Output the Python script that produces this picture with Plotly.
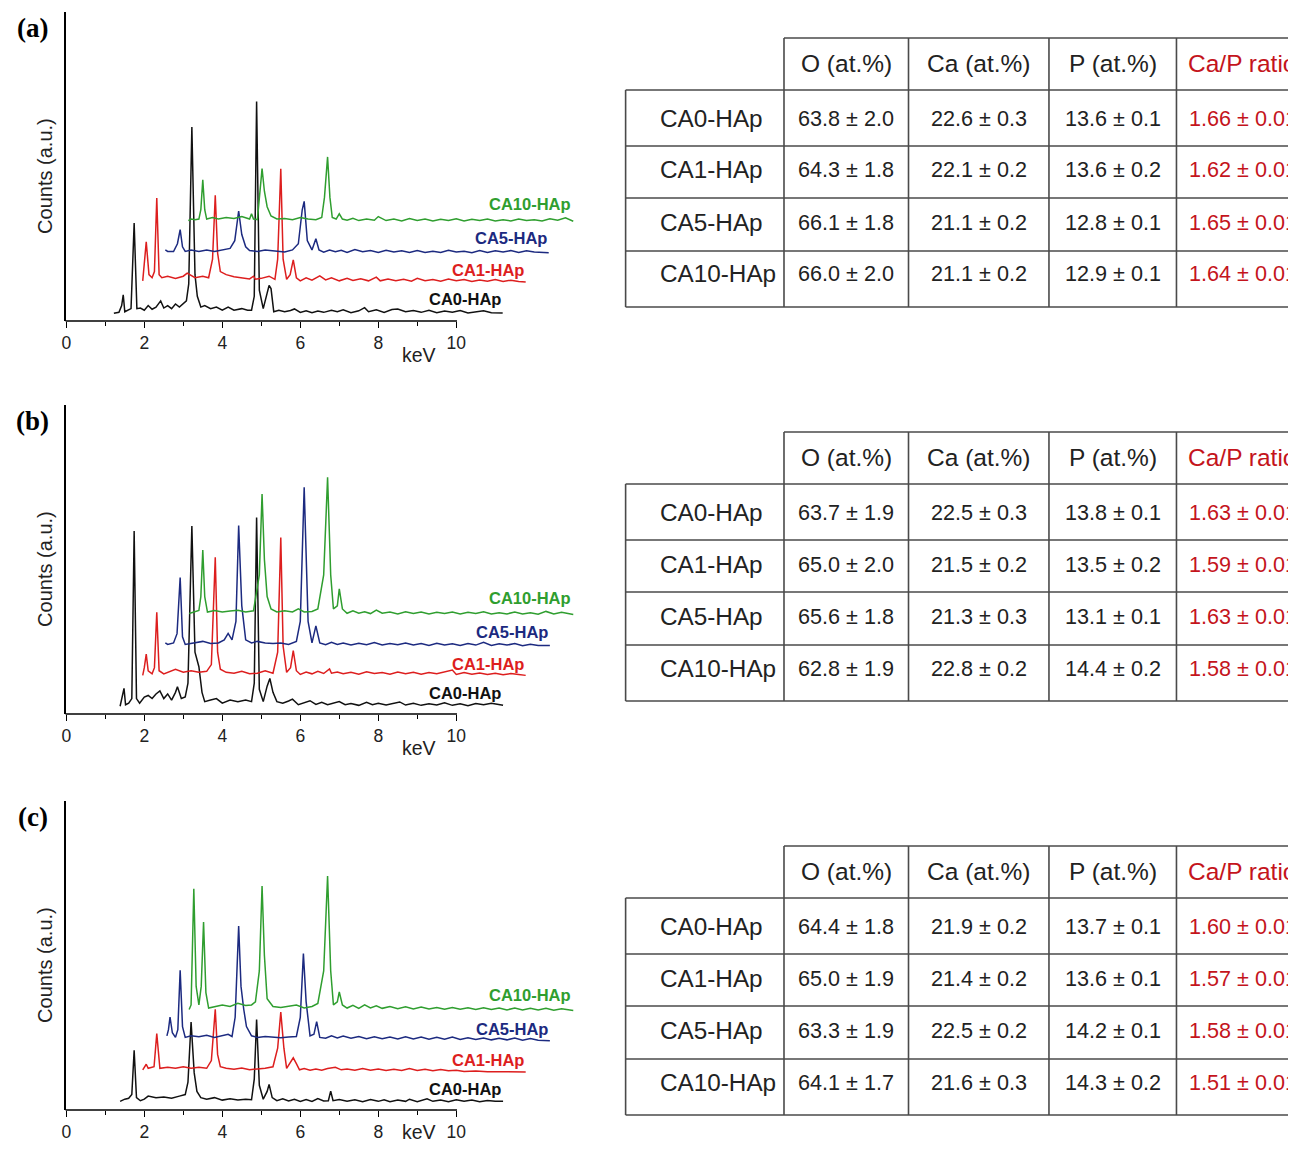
import plotly.graph_objects as go

# ---------------- DATA ----------------
series_names = ["CA0-HAp", "CA1-HAp", "CA5-HAp", "CA10-HAp"]
panel_labels = ["(a)", "(b)", "(c)"]
x_tick_vals = [0, 2, 4, 6, 8, 10]
x_minor_vals = [1, 3, 5, 7, 9]
x_title = "keV"
y_title = "Counts (a.u.)"

# ---- panel (a) spectra: displayed keV, counts (% of axis height) ----
a_ca0_kev = [1.22, 1.35, 1.42, 1.46, 1.50, 1.58, 1.66, 1.74, 1.81, 1.9, 2.0, 2.1, 2.2, 2.3, 2.42, 2.5, 2.6, 2.7, 2.8, 2.9, 3.0, 3.08, 3.14, 3.22, 3.30, 3.36, 3.45, 3.55, 3.7, 3.85, 4.0, 4.15, 4.3, 4.5, 4.65, 4.75, 4.82, 4.88, 4.95, 5.05, 5.15, 5.2, 5.25, 5.32,
             5.45, 5.6, 5.75, 5.85, 6.0, 6.15, 6.3, 6.45, 6.6, 6.8, 6.95, 7.1, 7.3, 7.5, 7.65, 7.75, 7.95, 8.15, 8.35, 8.5, 8.7, 8.9, 9.1, 9.3, 9.5, 9.7, 9.9, 10.1, 10.3, 10.5, 10.7, 10.9, 11.19]
a_ca0_cnt = [2.5, 2.8, 5.0, 8.5, 3.0, 3.5, 4.0, 31.7, 4.0, 4.2, 3.5, 5.0, 3.8, 4.5, 6.5, 4.2, 5.0, 4.0, 5.5, 4.5, 5.5, 6.5, 12.0, 62.8, 15.0, 8.0, 4.5, 5.0, 4.0, 4.5, 3.5, 4.5, 3.5, 4.0, 3.5, 3.5, 8.0, 71.0, 10.0, 4.0, 9.0, 11.5, 10.5, 3.0,
             3.5, 3.0, 3.4, 3.9, 2.8, 3.3, 2.7, 3.2, 2.8, 3.5, 3.0, 3.6, 2.7, 3.3, 4.3, 3.0, 3.6, 2.8, 3.7, 3.9, 3.0, 3.4, 2.8, 3.5, 2.7, 3.2, 2.8, 3.4, 2.6, 3.0, 3.3, 2.7, 2.6]
a_ca1_kev = [1.96, 2.0, 2.05, 2.12, 2.2, 2.26, 2.32, 2.38, 2.45, 2.6, 2.8, 3.0, 3.1, 3.3, 3.5, 3.65, 3.75, 3.82, 3.88, 3.95, 4.1, 4.3, 4.5, 4.7, 4.8, 4.85, 5.0, 5.2, 5.35, 5.42, 5.5, 5.56, 5.65, 5.74, 5.82, 5.9,
             6.0, 6.15, 6.3, 6.5, 6.65, 6.8, 7.0, 7.2, 7.35, 7.55, 7.75, 7.95, 8.05, 8.25, 8.45, 8.65, 8.85, 9.0, 9.2, 9.4, 9.6, 9.8, 10.0, 10.2, 10.4, 10.6, 10.8, 11.0, 11.2, 11.4, 11.6, 11.78]
a_ca1_cnt = [13.0, 18.0, 25.6, 15.0, 14.0, 16.0, 39.8, 15.0, 14.0, 14.5, 13.8, 14.5, 15.5, 14.0, 14.5, 14.0, 20.0, 40.7, 22.0, 16.0, 15.0, 14.3, 14.0, 13.6, 14.5, 13.5, 13.8, 14.5, 13.5, 20.0, 49.3, 20.0, 13.5, 15.0, 19.8, 14.0,
             13.0, 14.0, 13.2, 14.6, 13.3, 14.0, 13.0, 13.8, 13.1, 13.7, 13.0, 14.2, 13.0, 13.6, 13.0, 13.5, 12.9, 13.8, 13.0, 13.4, 12.9, 13.6, 13.0, 13.4, 12.8, 13.3, 12.9, 13.4, 12.8, 13.2, 12.8, 12.6]
a_ca5_kev = [2.54, 2.6, 2.75, 2.85, 2.92, 2.98, 3.05, 3.2, 3.4, 3.6, 3.8, 4.0, 4.2, 4.32, 4.42, 4.5, 4.6, 4.7, 4.9, 5.1, 5.4, 5.6, 5.8, 5.95, 6.05, 6.1, 6.18, 6.3, 6.4, 6.48,
             6.6, 6.75, 6.9, 7.05, 7.2, 7.4, 7.6, 7.8, 8.0, 8.2, 8.4, 8.6, 8.8, 9.0, 9.2, 9.4, 9.6, 9.8, 10.0, 10.2, 10.4, 10.6, 10.8, 11.0, 11.2, 11.4, 11.6, 11.8, 12.0, 12.37]
a_ca5_cnt = [23.0, 22.5, 22.5, 25.0, 29.6, 24.0, 22.5, 23.0, 22.5, 23.0, 22.5, 23.0, 23.5, 26.0, 35.6, 28.0, 24.0, 22.8, 22.5, 23.0, 22.5, 22.3, 23.0, 25.0, 36.0, 38.7, 26.0, 23.0, 26.6, 23.0,
             22.3, 23.0, 22.4, 22.9, 22.2, 23.1, 22.4, 22.8, 22.2, 22.9, 22.3, 22.7, 22.2, 22.8, 22.2, 22.6, 22.2, 22.9, 22.3, 22.6, 22.1, 22.8, 22.2, 22.7, 22.3, 22.8, 22.2, 22.7, 22.3, 22.1]
a_ca10_kev = [3.13, 3.2, 3.3, 3.4, 3.45, 3.5, 3.55, 3.6, 3.75, 3.9, 4.1, 4.3, 4.5, 4.7, 4.75, 4.8, 4.9, 4.96, 5.02, 5.08, 5.15, 5.25, 5.4, 5.6, 5.8, 6.0, 6.2, 6.4, 6.55, 6.62, 6.7, 6.76, 6.82, 6.92, 7.0, 7.08,
              7.2, 7.35, 7.5, 7.7, 7.9, 8.0, 8.2, 8.4, 8.6, 8.8, 9.0, 9.2, 9.4, 9.6, 9.8, 10.0, 10.2, 10.4, 10.6, 10.8, 11.0, 11.2, 11.4, 11.6, 11.8, 12.0, 12.2, 12.4, 12.6, 12.8, 13.0]
a_ca10_cnt = [32.5, 33.0, 32.8, 33.0, 36.0, 45.7, 36.0, 33.0, 33.5, 33.0, 33.5, 33.2, 33.8, 33.0, 34.7, 33.0, 32.8, 40.0, 49.3, 42.0, 37.0, 34.0, 33.0, 33.2, 32.8, 33.5, 33.0, 32.8, 33.5, 40.0, 53.1, 40.0, 33.5, 33.0, 34.7, 33.0,
              32.6, 33.2, 32.5, 33.0, 32.6, 33.8, 32.5, 33.0, 32.4, 33.2, 32.5, 33.0, 32.4, 32.9, 32.5, 33.1, 32.4, 32.9, 32.5, 33.0, 32.4, 32.8, 32.4, 33.0, 32.5, 32.8, 32.4, 33.1, 32.6, 33.4, 32.3]

# ---- panel (b) spectra ----
b_ca0_kev = [1.38, 1.42, 1.48, 1.52, 1.6, 1.68, 1.74, 1.8, 1.88, 2.0, 2.1, 2.2, 2.3, 2.4, 2.5, 2.6, 2.7, 2.8, 2.85, 2.95, 3.05, 3.12, 3.22, 3.3, 3.4, 3.48, 3.55, 3.7, 3.85, 4.0, 4.2, 4.4, 4.6, 4.75, 4.82, 4.88, 4.95, 5.05, 5.15, 5.22, 5.3, 5.4,
             5.55, 5.7, 5.8, 5.95, 6.1, 6.25, 6.4, 6.55, 6.7, 6.85, 7.0, 7.15, 7.3, 7.5, 7.7, 7.85, 8.0, 8.2, 8.4, 8.55, 8.7, 8.9, 9.1, 9.3, 9.5, 9.7, 9.9, 10.1, 10.3, 10.5, 10.7, 10.9, 11.2]
b_ca0_cnt = [2.5, 4.5, 8.3, 3.0, 3.5, 5.0, 59.2, 5.0, 3.5, 5.5, 6.0, 5.0, 6.5, 7.5, 5.0, 6.5, 4.5, 7.0, 8.8, 5.0, 5.5, 10.0, 60.8, 20.0, 15.3, 7.0, 4.0, 4.5, 5.0, 3.5, 4.5, 4.0, 4.5, 4.0, 10.0, 63.6, 8.0, 4.0, 9.0, 11.5, 7.0, 4.0,
             3.5, 4.2, 4.8, 3.0, 3.6, 4.3, 3.1, 3.8, 3.0, 3.6, 4.0, 3.0, 3.4, 2.8, 3.8, 3.0, 3.5, 2.9, 3.4, 3.9, 2.9, 3.5, 2.8, 3.3, 2.9, 3.6, 2.8, 3.3, 2.7, 3.4, 3.0, 3.5, 2.8]
b_ca1_kev = [1.96, 2.0, 2.05, 2.1, 2.2, 2.26, 2.32, 2.38, 2.5, 2.6, 2.8, 3.0, 3.2, 3.4, 3.6, 3.72, 3.82, 3.88, 3.95, 4.1, 4.3, 4.5, 4.7, 4.9, 5.1, 5.3, 5.42, 5.5, 5.56, 5.65, 5.75, 5.82, 5.9,
             6.0, 6.15, 6.3, 6.45, 6.6, 6.75, 6.8, 6.95, 7.1, 7.3, 7.5, 7.7, 7.9, 8.1, 8.3, 8.5, 8.7, 8.9, 9.1, 9.3, 9.5, 9.7, 9.9, 10.0, 10.2, 10.4, 10.6, 10.8, 11.0, 11.2, 11.4, 11.6, 11.78]
b_ca1_cnt = [12.5, 15.0, 19.4, 14.0, 13.0, 15.0, 32.9, 14.0, 13.0, 13.5, 14.5, 13.5, 14.0, 13.5, 13.8, 16.0, 50.7, 20.0, 14.5, 13.5, 13.2, 13.8, 13.0, 13.2, 14.0, 13.2, 20.0, 57.1, 22.0, 13.5, 15.0, 20.5, 14.0,
             12.8, 13.6, 13.0, 13.8, 13.1, 14.6, 13.2, 13.6, 13.0, 13.5, 12.9, 13.7, 13.1, 13.4, 12.9, 13.6, 13.0, 13.5, 12.9, 13.4, 13.0, 13.5, 14.2, 12.8, 13.4, 12.9, 13.3, 12.8, 13.2, 12.7, 13.1, 12.8, 12.5]
b_ca5_kev = [2.54, 2.6, 2.75, 2.84, 2.92, 2.98, 3.05, 3.3, 3.5, 3.7, 3.9, 4.05, 4.15, 4.25, 4.35, 4.42, 4.5, 4.6, 4.75, 4.9, 5.1, 5.3, 5.5, 5.7, 5.9, 6.0, 6.1, 6.2, 6.3, 6.4, 6.5,
             6.65, 6.8, 6.95, 7.1, 7.3, 7.5, 7.7, 7.9, 8.1, 8.3, 8.5, 8.7, 8.9, 9.1, 9.3, 9.5, 9.7, 9.9, 10.1, 10.3, 10.5, 10.7, 10.9, 11.1, 11.3, 11.5, 11.7, 11.9, 12.1, 12.4]
b_ca5_cnt = [23.0, 22.5, 23.0, 26.0, 44.2, 25.0, 22.5, 23.0, 23.5, 22.8, 23.0, 24.0, 26.1, 24.0, 30.0, 61.0, 35.0, 24.0, 23.0, 23.5, 23.0, 22.8, 23.0, 22.5, 23.5, 30.0, 73.4, 30.0, 23.0, 28.5, 23.0,
             22.4, 23.2, 22.5, 23.0, 22.3, 22.9, 22.4, 23.1, 22.3, 22.8, 22.4, 23.0, 22.3, 22.8, 22.2, 22.9, 22.3, 22.7, 22.2, 22.8, 22.3, 23.2, 22.2, 22.7, 22.3, 22.8, 22.1, 22.6, 22.2, 22.2]
b_ca10_kev = [3.15, 3.25, 3.4, 3.45, 3.5, 3.55, 3.62, 3.8, 4.0, 4.2, 4.4, 4.6, 4.8, 4.95, 5.02, 5.08, 5.15, 5.25, 5.4, 5.6, 5.8, 5.95, 6.1, 6.3, 6.45, 6.6, 6.7, 6.78, 6.85, 6.95, 7.0, 7.08,
              7.2, 7.35, 7.5, 7.65, 7.8, 7.95, 8.1, 8.3, 8.5, 8.7, 8.9, 9.1, 9.3, 9.5, 9.7, 9.9, 10.1, 10.3, 10.5, 10.7, 10.9, 11.1, 11.3, 11.5, 11.7, 11.9, 12.1, 12.3, 12.5, 12.7, 13.0]
b_ca10_cnt = [32.5, 33.0, 33.5, 38.0, 53.1, 38.0, 33.0, 33.5, 33.0, 33.3, 33.6, 33.0, 33.4, 45.0, 71.2, 50.0, 38.0, 34.0, 33.0, 33.4, 33.0, 34.0, 33.0, 33.2, 34.0, 45.0, 76.6, 45.0, 34.0, 35.0, 40.5, 34.0,
              32.6, 33.4, 32.6, 33.1, 32.5, 33.6, 32.6, 33.0, 32.4, 33.1, 32.5, 33.0, 32.4, 32.9, 32.5, 33.0, 32.4, 32.9, 32.5, 33.1, 32.4, 32.8, 32.4, 33.0, 32.4, 32.8, 32.3, 33.2, 32.4, 32.9, 32.2]

# ---- panel (c) spectra ----
c_ca0_kev = [1.38, 1.5, 1.6, 1.68, 1.74, 1.8, 1.9, 2.0, 2.1, 2.3, 2.5, 2.7, 2.9, 3.05, 3.12, 3.2, 3.28, 3.35, 3.45, 3.6, 3.8, 4.0, 4.2, 4.4, 4.6, 4.75, 4.82, 4.88, 4.95, 5.05, 5.15, 5.2, 5.28, 5.4,
             5.55, 5.7, 5.85, 6.0, 6.15, 6.3, 6.45, 6.6, 6.72, 6.78, 6.84, 7.0, 7.2, 7.4, 7.6, 7.8, 8.0, 8.15, 8.3, 8.5, 8.7, 8.8, 9.0, 9.25, 9.4, 9.6, 9.8, 10.0, 10.2, 10.4, 10.6, 10.8, 11.0, 11.2]
c_ca0_cnt = [2.8, 3.5, 3.8, 5.0, 19.3, 4.0, 3.0, 3.5, 4.5, 4.0, 4.2, 3.8, 4.5, 5.0, 9.0, 28.5, 12.0, 6.0, 4.0, 3.5, 4.0, 3.2, 3.6, 3.2, 3.5, 3.3, 10.0, 29.3, 8.0, 3.5, 6.0, 8.3, 4.0, 3.0,
             3.6, 2.9, 3.5, 2.8, 3.4, 2.8, 3.7, 2.9, 3.0, 6.1, 3.0, 3.4, 2.8, 3.3, 2.7, 3.4, 2.8, 3.3, 2.7, 3.2, 2.8, 3.5, 2.7, 3.6, 2.8, 3.2, 2.7, 3.3, 2.8, 3.2, 2.7, 3.1, 2.8, 2.8]
c_ca1_kev = [1.96, 2.0, 2.05, 2.1, 2.25, 2.32, 2.4, 2.6, 2.8, 3.0, 3.2, 3.4, 3.6, 3.72, 3.82, 3.88, 3.95, 4.1, 4.3, 4.5, 4.7, 4.9, 5.1, 5.3, 5.42, 5.5, 5.58, 5.65, 5.75, 5.82, 5.9, 5.98,
             6.1, 6.25, 6.4, 6.55, 6.7, 6.9, 7.05, 7.2, 7.4, 7.6, 7.8, 8.0, 8.2, 8.4, 8.6, 8.8, 9.0, 9.2, 9.4, 9.6, 9.8, 10.0, 10.2, 10.5, 10.8, 11.0, 11.3, 11.78]
c_ca1_cnt = [13.0, 14.0, 14.8, 13.5, 14.0, 24.7, 13.5, 13.8, 13.5, 14.0, 13.5, 13.8, 13.5, 16.0, 32.6, 18.0, 14.0, 13.5, 13.2, 13.6, 13.0, 13.3, 13.5, 14.0, 20.0, 31.7, 20.0, 13.5, 15.5, 16.9, 15.0, 13.0,
             13.4, 12.9, 13.3, 12.9, 13.4, 13.8, 13.0, 13.3, 12.9, 13.4, 12.9, 13.3, 12.8, 13.2, 12.8, 13.4, 12.8, 13.2, 12.7, 13.1, 12.7, 12.9, 12.5, 12.6, 12.4, 12.5, 12.4, 12.3]
c_ca5_kev = [2.58, 2.62, 2.66, 2.72, 2.8, 2.86, 2.92, 2.98, 3.05, 3.2, 3.4, 3.6, 3.8, 4.0, 4.15, 4.25, 4.33, 4.42, 4.48, 4.55, 4.62, 4.75, 4.9, 5.1, 5.3, 5.5, 5.7, 5.9, 6.0, 6.08, 6.15, 6.25, 6.35, 6.42, 6.5,
             6.65, 6.8, 6.95, 7.1, 7.3, 7.5, 7.7, 7.9, 8.1, 8.3, 8.5, 8.7, 8.9, 9.1, 9.3, 9.5, 9.7, 9.9, 10.1, 10.3, 10.5, 10.7, 10.9, 11.1, 11.3, 11.5, 11.7, 11.9, 12.1, 12.4]
c_ca5_cnt = [24.0, 26.0, 30.1, 25.0, 23.5, 26.0, 45.2, 27.0, 23.5, 24.0, 23.7, 24.2, 23.5, 24.0, 24.5, 23.8, 30.0, 59.5, 40.0, 32.6, 27.0, 24.0, 23.5, 23.8, 23.5, 23.4, 23.6, 23.8, 30.0, 50.6, 35.0, 24.0, 24.5, 28.6, 23.5,
             23.2, 24.0, 23.3, 23.9, 23.2, 23.8, 23.1, 23.7, 23.1, 23.6, 23.0, 23.7, 23.0, 23.6, 22.9, 23.5, 22.9, 23.6, 22.8, 23.4, 22.8, 23.3, 22.7, 23.2, 22.7, 23.3, 22.6, 23.1, 22.6, 22.4]
c_ca10_kev = [3.15, 3.2, 3.27, 3.33, 3.4, 3.46, 3.52, 3.58, 3.65, 3.8, 4.0, 4.2, 4.4, 4.6, 4.75, 4.85, 4.95, 5.02, 5.08, 5.15, 5.3, 5.5, 5.7, 5.9, 6.1, 6.3, 6.45, 6.6, 6.7, 6.78, 6.85, 6.95, 7.0, 7.08,
              7.2, 7.35, 7.5, 7.65, 7.8, 7.95, 8.1, 8.3, 8.5, 8.7, 8.9, 9.1, 9.3, 9.5, 9.7, 9.9, 10.1, 10.3, 10.5, 10.7, 10.9, 11.1, 11.3, 11.5, 11.7, 11.9, 12.1, 12.3, 12.5, 12.7, 13.0]
c_ca10_cnt = [32.5, 34.0, 71.6, 40.0, 34.0, 40.0, 60.8, 38.0, 33.0, 33.5, 34.0, 33.5, 34.5, 33.8, 34.0, 35.0, 45.0, 72.5, 50.0, 36.0, 33.5, 33.2, 33.5, 34.0, 33.0, 33.5, 34.5, 45.0, 75.7, 45.0, 34.0, 35.0, 38.2, 34.0,
              33.0, 33.9, 32.9, 34.0, 33.0, 33.7, 32.9, 33.5, 32.8, 33.4, 32.7, 33.3, 32.7, 33.2, 32.6, 33.2, 32.6, 33.1, 32.5, 33.1, 32.5, 33.0, 32.4, 33.0, 32.4, 32.9, 32.4, 32.9, 32.3, 32.8, 32.2]

# ---- tables ----
table_header = ["O (at.%)", "Ca (at.%)", "P (at.%)", "Ca/P ratio"]
a_O = ["63.8 ± 2.0", "64.3 ± 1.8", "66.1 ± 1.8", "66.0 ± 2.0"]
a_Ca = ["22.6 ± 0.3", "22.1 ± 0.2", "21.1 ± 0.2", "21.1 ± 0.2"]
a_P = ["13.6 ± 0.1", "13.6 ± 0.2", "12.8 ± 0.1", "12.9 ± 0.1"]
a_CaP = ["1.66 ± 0.01", "1.62 ± 0.01", "1.65 ± 0.01", "1.64 ± 0.01"]
b_O = ["63.7 ± 1.9", "65.0 ± 2.0", "65.6 ± 1.8", "62.8 ± 1.9"]
b_Ca = ["22.5 ± 0.3", "21.5 ± 0.2", "21.3 ± 0.3", "22.8 ± 0.2"]
b_P = ["13.8 ± 0.1", "13.5 ± 0.2", "13.1 ± 0.1", "14.4 ± 0.2"]
b_CaP = ["1.63 ± 0.01", "1.59 ± 0.01", "1.63 ± 0.01", "1.58 ± 0.01"]
c_O = ["64.4 ± 1.8", "65.0 ± 1.9", "63.3 ± 1.9", "64.1 ± 1.7"]
c_Ca = ["21.9 ± 0.2", "21.4 ± 0.2", "22.5 ± 0.2", "21.6 ± 0.3"]
c_P = ["13.7 ± 0.1", "13.6 ± 0.1", "14.2 ± 0.1", "14.3 ± 0.2"]
c_CaP = ["1.60 ± 0.01", "1.57 ± 0.01", "1.58 ± 0.01", "1.51 ± 0.01"]

# ---------------- STYLE / LAYOUT ----------------
PAGE_W, PAGE_H = 1296, 1152
OFF = 8                      # default margin of the html body
W, H = PAGE_W - OFF, PAGE_H - 2 * OFF   # keep the page free of scrollbars

def px(x):
    return (x - OFF) / W

def py(y):
    return 1 - (y - OFF) / H

series_colors = ["#111111", "#dd1e1e", "#1c2a80", "#2f9e2f"]
text_col = "#222222"
red_text = "#c4141c"
grid_col = "#4a4a4a"
FONT = "Arial, Liberation Sans, sans-serif"

panels = [
    dict(spec=[(a_ca0_kev, a_ca0_cnt), (a_ca1_kev, a_ca1_cnt), (a_ca5_kev, a_ca5_cnt), (a_ca10_kev, a_ca10_cnt)],
         table=[a_O, a_Ca, a_P, a_CaP]),
    dict(spec=[(b_ca0_kev, b_ca0_cnt), (b_ca1_kev, b_ca1_cnt), (b_ca5_kev, b_ca5_cnt), (b_ca10_kev, b_ca10_cnt)],
         table=[b_O, b_Ca, b_P, b_CaP]),
    dict(spec=[(c_ca0_kev, c_ca0_cnt), (c_ca1_kev, c_ca1_cnt), (c_ca5_kev, c_ca5_cnt), (c_ca10_kev, c_ca10_cnt)],
         table=[c_O, c_Ca, c_P, c_CaP]),
]

# layout geometry (reference pixels)
axis_left = 61.5
kev_px = 39.15
x_max = 13.2
axis_bottoms = [321, 714, 1110]
axis_h = 309
kev_label_offsets = [34, 34, 22]      # last one raised so it stays inside the page
label_heights = [[7.0, 16.5, 27.0, 37.8], [6.8, 16.2, 26.6, 37.7], [6.8, 16.2, 26.3, 37.3]]
table_tops = [38, 432, 846]
col_edges = [623, 782, 907, 1048, 1176, 1320]
row_offsets = [0, 52, 108, 160, 213, 269]
text_offsets = [25, 80, 132, 184, 236]

fig = go.Figure()
shapes = []
annotations = []
layout_axes = {}

for i, pnl in enumerate(panels):
    xa = "x" if i == 0 else f"x{i+1}"
    ya = "y" if i == 0 else f"y{i+1}"
    xkey = "xaxis" if i == 0 else f"xaxis{i+1}"
    ykey = "yaxis" if i == 0 else f"yaxis{i+1}"
    bottom = axis_bottoms[i]
    top = bottom - axis_h
    right = axis_left + x_max * kev_px

    for j, (kev, cnt) in enumerate(pnl["spec"]):
        fig.add_trace(go.Scatter(x=kev, y=cnt, mode="lines", name=series_names[j],
                                 line=dict(color=series_colors[j], width=1.5),
                                 xaxis=xa, yaxis=ya, showlegend=False, hoverinfo="skip"))
        annotations.append(dict(x=kev[-1], y=label_heights[i][j], xref=xa, yref=ya,
                                text=f"<b>{series_names[j]}</b>", showarrow=False, xanchor="right", yanchor="middle",
                                font=dict(family=FONT, size=16.5, color=series_colors[j])))

    layout_axes[xkey] = dict(domain=[px(axis_left), px(right)], range=[0, x_max], anchor=ya,
                             showline=False, showgrid=False, zeroline=False,
                             tickmode="array", tickvals=x_tick_vals, ticks="outside", ticklen=6,
                             tickwidth=1.3, tickcolor="black",
                             tickfont=dict(family=FONT, size=17.5, color=text_col),
                             minor=dict(tickvals=x_minor_vals, ticks="outside", ticklen=4,
                                        tickwidth=1.2, tickcolor="black"))
    layout_axes[ykey] = dict(domain=[py(bottom), py(top)], range=[0, 100], anchor=xa,
                             showline=True, linecolor="black", linewidth=1.5,
                             showticklabels=False, ticks="", showgrid=False, zeroline=False)
    # x axis line spanning 0..10 keV
    shapes.append(dict(type="line", xref="paper", yref="paper",
                       x0=px(axis_left - 0.75), x1=px(axis_left + x_tick_vals[-1] * kev_px + 0.75),
                       y0=py(bottom), y1=py(bottom), line=dict(color="black", width=1.5)))
    # axis titles
    annotations.append(dict(x=px(axis_left + 9.05 * kev_px), y=py(bottom + kev_label_offsets[i]),
                            xref="paper", yref="paper",
                            text=x_title, showarrow=False, xanchor="center", yanchor="middle",
                            font=dict(family=FONT, size=19.5, color=text_col)))
    annotations.append(dict(x=px(40), y=py(bottom - 145), xref="paper", yref="paper",
                            text=y_title, showarrow=False, textangle=-90, xanchor="center", yanchor="middle",
                            font=dict(family=FONT, size=20, color=text_col)))
    annotations.append(dict(x=px(28), y=py(top + 16), xref="paper", yref="paper",
                            text=f"<b>{panel_labels[i]}</b>", showarrow=False, xanchor="center", yanchor="middle",
                            font=dict(family="Liberation Serif, Times New Roman, serif", size=27, color="black")))

    # ---- table ----
    t = table_tops[i]
    rows_y = [t + o for o in row_offsets]
    line = dict(color=grid_col, width=1.6)
    shapes.append(dict(type="line", xref="paper", yref="paper", x0=px(col_edges[1]), x1=px(col_edges[-1]),
                       y0=py(rows_y[0]), y1=py(rows_y[0]), line=line))
    for ry in rows_y[1:]:
        shapes.append(dict(type="line", xref="paper", yref="paper", x0=px(col_edges[0]), x1=px(col_edges[-1]),
                           y0=py(ry), y1=py(ry), line=line))
    shapes.append(dict(type="line", xref="paper", yref="paper", x0=px(col_edges[0]), x1=px(col_edges[0]),
                       y0=py(rows_y[1]), y1=py(rows_y[-1]), line=line))
    for cx in col_edges[1:-1]:
        shapes.append(dict(type="line", xref="paper", yref="paper", x0=px(cx), x1=px(cx),
                           y0=py(rows_y[0]), y1=py(rows_y[-1]), line=line))
    # header
    for k, htxt in enumerate(table_header):
        is_last = k == len(table_header) - 1
        if is_last:
            hx, anc = col_edges[4] + 10, "left"
        else:
            hx, anc = (col_edges[k + 1] + col_edges[k + 2]) / 2, "center"
        annotations.append(dict(x=px(hx), y=py(t + text_offsets[0]), xref="paper", yref="paper",
                                text=htxt, showarrow=False, xanchor=anc, yanchor="middle",
                                font=dict(family=FONT, size=24.5, color=red_text if is_last else text_col)))
    # body
    for r in range(4):
        yy = py(t + text_offsets[r + 1])
        annotations.append(dict(x=px(656), y=yy, xref="paper", yref="paper", text=series_names[r],
                                showarrow=False, xanchor="left", yanchor="middle",
                                font=dict(family=FONT, size=24.3, color=text_col)))
        for k, col in enumerate(pnl["table"]):
            is_last = k == 3
            if is_last:
                cx, anc = col_edges[4] + 11, "left"
            else:
                cx, anc = (col_edges[k + 1] + col_edges[k + 2]) / 2, "center"
            annotations.append(dict(x=px(cx), y=yy, xref="paper", yref="paper", text=col[r],
                                    showarrow=False, xanchor=anc, yanchor="middle",
                                    font=dict(family=FONT, size=21.6, color=red_text if is_last else text_col)))

fig.update_layout(width=W, height=H, margin=dict(l=0, r=0, t=0, b=0),
                  paper_bgcolor="white", plot_bgcolor="white",
                  shapes=shapes, annotations=annotations, showlegend=False, **layout_axes)

fig.write_html("out.html")
